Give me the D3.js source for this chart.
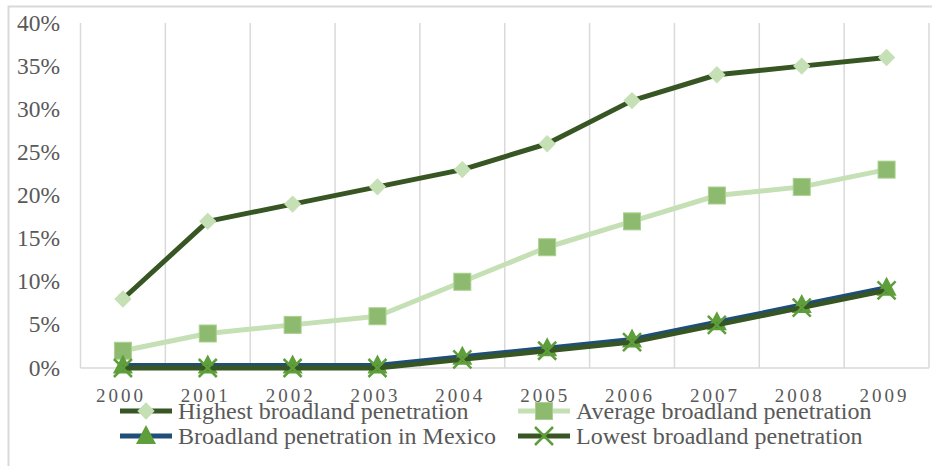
<!DOCTYPE html>
<html>
<head>
<meta charset="utf-8">
<script src="https://cdn.jsdelivr.net/npm/d3@7"></script>
<style>
  body { margin: 0; background: #fff; }
</style>
</head>
<body>
<script>
var years = ["2000", "2001", "2002", "2003", "2004", "2005", "2006", "2007", "2008", "2009"];
var highest = [8, 17, 19, 21, 23, 26, 31, 34, 35, 36];
var average = [2, 4, 5, 6, 10, 14, 17, 20, 21, 23];
var mexico = [0.3, 0.3, 0.3, 0.3, 1.3, 2.3, 3.3, 5.3, 7.3, 9.3];
var lowest = [0, 0, 0, 0, 1, 2, 3, 5, 7, 9];
var yTicks = [0, 5, 10, 15, 20, 25, 30, 35, 40];

var width = 932, height = 466;
var plotLeft = 80.5, plotRight = 929, plotTop = 23, plotBottom = 368;

var svg = d3.select("body").append("svg")
    .attr("width", width)
    .attr("height", height);

function addText(px, py, str, size, anchor, spacing) {
  return svg.append("text")
    .attr("x", px)
    .attr("y", py)
    .attr("text-anchor", anchor)
    .attr("font-family", "'Liberation Serif', 'Times New Roman', serif")
    .attr("fill", "#595959")
    .style("font-size", size + "px")
    .style("letter-spacing", (spacing || 0) + "px")
    .text(str);
}

// chart frame
svg.append("path")
    .attr("d", "M8.5,480 V6.5 H940")
    .attr("fill", "none")
    .attr("stroke", "#d9d9d9")
    .attr("stroke-width", 2);

var x = d3.scaleBand().domain(years).range([plotLeft, plotRight]);
var y = d3.scaleLinear().domain([0, 40]).range([plotBottom, plotTop]);

// vertical gridlines at category boundaries
var bounds = years.map(function(d) { return x(d); }).concat([plotRight]);
svg.selectAll(".grid")
    .data(bounds)
    .enter().append("line")
    .attr("x1", function(d) { return d; })
    .attr("x2", function(d) { return d; })
    .attr("y1", plotTop)
    .attr("y2", plotBottom)
    .attr("stroke", "#d9d9d9")
    .attr("stroke-width", 1.5);

svg.append("line")
    .attr("x1", plotLeft).attr("x2", plotRight)
    .attr("y1", plotBottom).attr("y2", plotBottom)
    .attr("stroke", "#d9d9d9")
    .attr("stroke-width", 1.5);

// y labels
yTicks.forEach(function(d) {
  addText(60, y(d) + 7.5, d + "%", 23.5, "end");
});

// x labels
years.forEach(function(d) {
  addText(x(d) + x.bandwidth() / 2 - 2, 402, d, 19, "middle", 3);
});

var cx = function(i) { return x(years[i]) + x.bandwidth() / 2; };

var series = [
  { name: "Highest broadland penetration", values: highest, line: "#375623", marker: "diamond", fill: "#c5e0b4" },
  { name: "Average broadland penetration", values: average, line: "#c5e0b4", marker: "square", fill: "#8dba6e" },
  { name: "Broadland penetration in Mexico", values: mexico, line: "#1f4e79", marker: "triangle", fill: "#5e9e3b" },
  { name: "Lowest broadland penetration", values: lowest, line: "#375623", marker: "cross", fill: "#5e9e3b" }
];

function drawMarker(g, type, px, py, fill) {
  if (type === "diamond") {
    g.append("path")
      .attr("d", d3.symbol().type(d3.symbolSquare).size(150)())
      .attr("transform", "translate(" + px + "," + py + ") rotate(45)")
      .attr("fill", fill);
  } else if (type === "square") {
    g.append("rect")
      .attr("x", px - 8.5).attr("y", py - 8.5)
      .attr("width", 17).attr("height", 17)
      .attr("fill", fill)
      .attr("stroke", "#a9d18e")
      .attr("stroke-width", 1);
  } else if (type === "triangle") {
    g.append("path")
      .attr("d", "M0,-11 L10,8 L-10,8 Z")
      .attr("transform", "translate(" + px + "," + py + ")")
      .attr("fill", fill);
  } else if (type === "cross") {
    g.append("path")
      .attr("d", "M-9,-9 L9,9 M-9,9 L9,-9")
      .attr("transform", "translate(" + px + "," + py + ")")
      .attr("stroke", fill)
      .attr("stroke-width", 2.5);
  }
}

var line = d3.line()
    .x(function(d, i) { return cx(i); })
    .y(function(d) { return y(d); });

series.forEach(function(s) {
  var g = svg.append("g");
  g.append("path")
    .datum(s.values)
    .attr("d", line)
    .attr("fill", "none")
    .attr("stroke", s.line)
    .attr("stroke-width", 5)
    .attr("stroke-linejoin", "round");
  s.values.forEach(function(v, i) {
    drawMarker(g, s.marker, cx(i), y(v), s.fill);
  });
});

// legend
var legendPos = [
  { x: 120, y: 411 },
  { x: 518, y: 411 },
  { x: 120, y: 436 },
  { x: 518, y: 436 }
];

series.forEach(function(s, i) {
  var p = legendPos[i];
  var g = svg.append("g");
  g.append("line")
    .attr("x1", p.x).attr("x2", p.x + 52)
    .attr("y1", p.y).attr("y2", p.y)
    .attr("stroke", s.line)
    .attr("stroke-width", 5);
  drawMarker(g, s.marker, p.x + 26, p.y, s.fill);
  addText(p.x + 58, p.y + 7.5, s.name, 24, "start");
});
</script>
</body>
</html>
